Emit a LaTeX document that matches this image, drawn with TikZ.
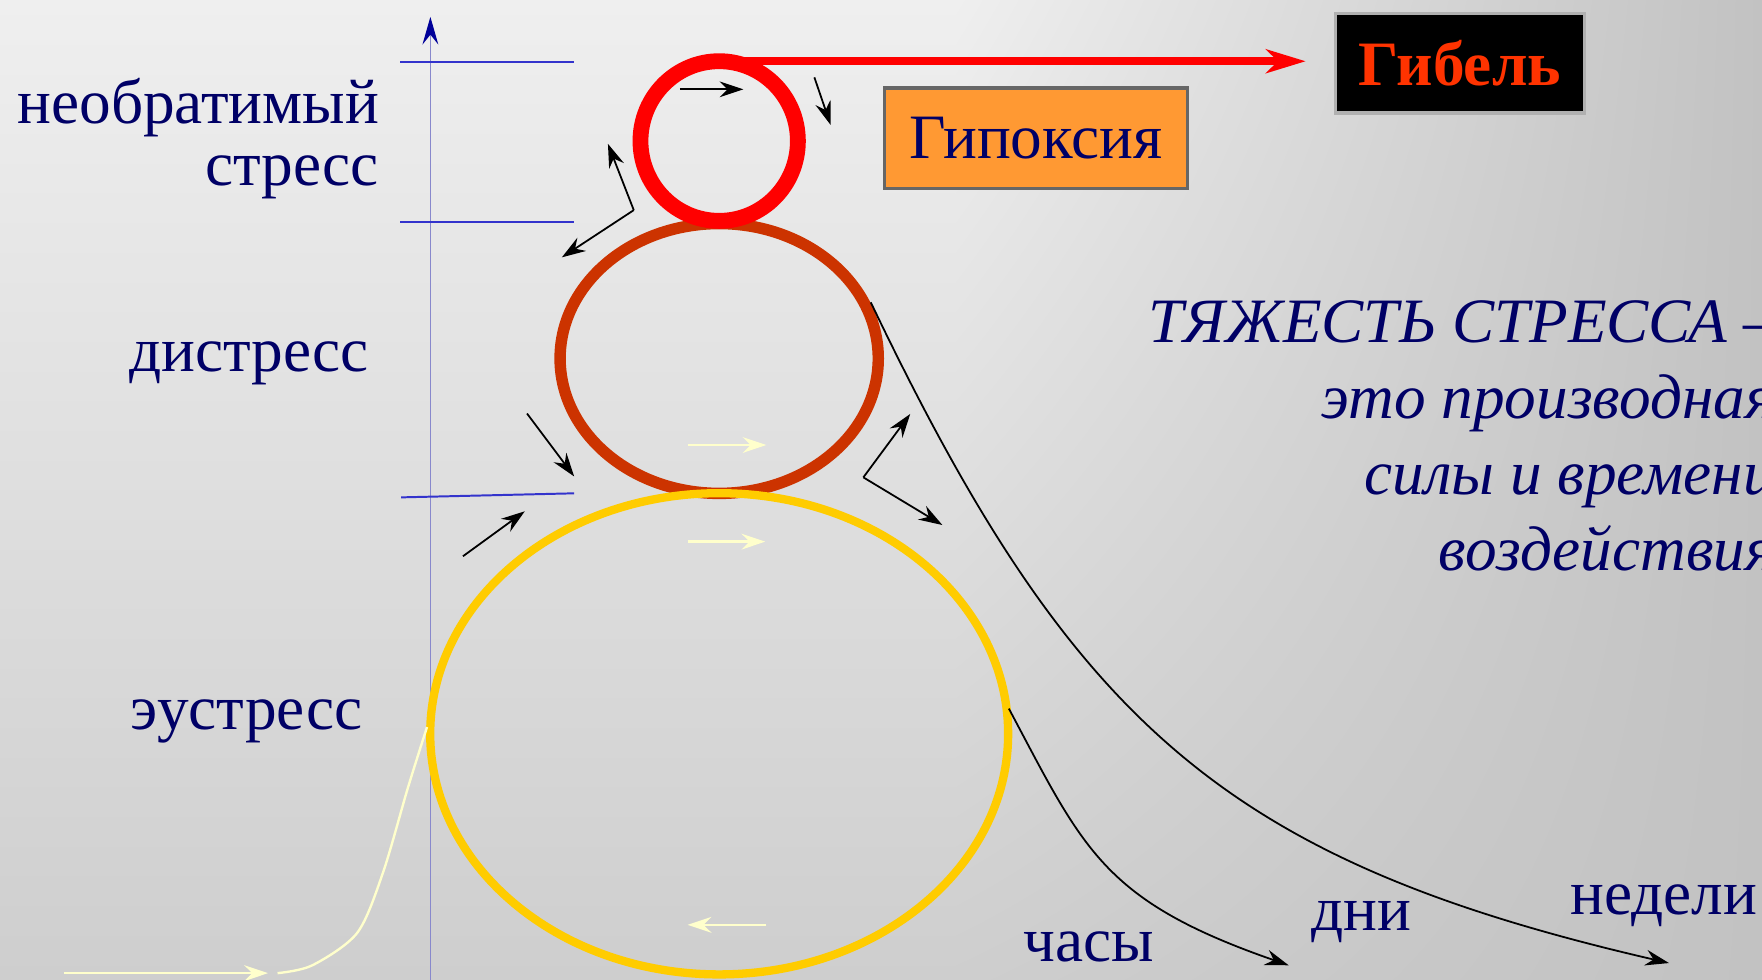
\documentclass[tikz,border=0pt]{standalone}
\usepackage{fontspec}
\setmainfont{Liberation Serif}
\usetikzlibrary{arrows.meta, calc, positioning, shadings}

\definecolor{navytext}{HTML}{000066}
\definecolor{ringred}{HTML}{FF0000}
\definecolor{ringbrown}{HTML}{CC3300}
\definecolor{ringgold}{HTML}{FFCC00}
\definecolor{paleyellow}{HTML}{FFFFCC}
\definecolor{levelblue}{HTML}{3333CC}
\definecolor{axisblue}{HTML}{8888CC}
\definecolor{axistip}{HTML}{000099}
\definecolor{boxorange}{HTML}{FF9933}
\definecolor{boxedge}{HTML}{666666}
\definecolor{deathred}{HTML}{FF3300}
\definecolor{deathedge}{HTML}{B0B0B0}
\definecolor{bgTop}{HTML}{EFEFEF}
\definecolor{bgBottom}{HTML}{CECECE}
\definecolor{bgUR}{HTML}{C2C2C2}
\definecolor{bgLR}{HTML}{C2C2C2}

\begin{document}
\begin{tikzpicture}[x=0.01cm,y=-0.01cm,>=stealth,
  lbl/.style={text=navytext,font=\fontsize{16}{19}\selectfont,inner sep=0pt},
  level/.style={levelblue,line width=0.5pt},
  flow/.style={-{Stealth[length=6pt,width=4pt,inset=2pt]},line width=0.45pt},
  paleflow/.style={-{Stealth[length=6pt,width=4pt,inset=2pt]},paleyellow,line width=0.6pt},
  timeline/.style={-{Stealth[length=6pt,width=4pt,inset=2pt]},line width=0.45pt}]

% --- Sfondo
\useasboundingbox (0,0) rectangle (1568,872);
\clip (0,0) rectangle (1568,872);
\shade[top color=bgTop,bottom color=bgBottom] (0,0) rectangle (851,872);
\shade[upper left=bgTop,lower left=bgBottom,upper right=bgUR,lower right=bgLR] (850,0) rectangle (1568,872);

% --- Asse e livelli
\draw[axisblue,line width=0.3pt,-{Stealth[length=7pt,width=4pt,inset=2.5pt,color=axistip]}] (383,872) -- (383,15);
\draw[level] (356,54.9) -- (511,54.9);
\draw[level] (356,197.3) -- (511,197.3);
\draw[level] (357,442.6) -- (511,439);

% --- Anelli
\coordinate (irrev) at (640,125.5);
\coordinate (dist) at (640,319);
\coordinate (eus) at (640,653);
\draw[ringbrown,line width=2.9pt] (dist) ellipse [x radius=1.415cm, y radius=1.20cm];
\draw[ringgold,line width=2.1pt] (eus) ellipse [x radius=2.57cm, y radius=2.14cm];
\draw[ringred,line width=4pt] (irrev) ellipse [x radius=0.70cm, y radius=0.71cm];

% --- Etichette a sinistra
\node[lbl,anchor=base east] (irrevA) at (338,110) {необратимый};
\node[lbl,anchor=base east] (irrevB) at (338,165) {стресс};
\node[lbl,anchor=base east] (distress) at (329,331) {дистресс};
\node[lbl,anchor=base east] (eustress) at (323.5,649) {эустресс};

% --- Riquadri
\node[lbl,draw=boxedge,fill=boxorange,line width=0.8pt,minimum width=2.695cm,minimum height=0.892cm]
  (hypoxia) at (921.8,122.9) {Гипоксия};
\node[lbl,draw=deathedge,fill=black,text=deathred,line width=0.8pt,minimum width=2.216cm,minimum height=0.885cm,
  font=\fontsize{16}{19}\selectfont\bfseries] (death) at (1299.2,56.25) {Гибель};

\coordinate (irrevTop) at (640,54.5);
\draw[ringred,line width=1.9pt,-{Stealth[length=10pt,width=6pt,inset=3pt]},shorten >=0.25cm] (irrevTop) -- (irrevTop -| death.west);

% --- Testo (ancorato all'ultima riga)
\node[lbl,font=\fontsize{16}{19.2}\selectfont\itshape,align=right,anchor=base east]
  (severity) at (1580,507.5) {ТЯЖЕСТЬ СТРЕССА –\\это производная\\силы и времени\\воздействия};

\node[lbl,anchor=base west] (hours) at (910,856) {часы};
\node[lbl,anchor=base west] (days) at (1166,828) {дни};
\node[lbl,anchor=base west] (weeks) at (1397,814) {недели};

% --- Frecce nere
\draw[flow] (605,79.5) -- (661.5,79.5);
\draw[flow] (724.7,68.8) -- (739.2,111.2);
\coordinate (kneeL) at (564,187);
\draw[flow] (kneeL) -- (541,128);
\draw[flow] (kneeL) -- (500,229);
\draw[flow] (469,368) -- (511,424);
\draw[flow] (412,495) -- (467,455);
\coordinate (kneeR) at (768.3,424.8);
\draw[flow] (kneeR) -- (810,368.4);
\draw[flow] (kneeR) -- (838.6,467.2);

% --- Curve temporali
\coordinate (distR) at (774.9,269);
\coordinate (eusR) at (897.8,630.6);
\coordinate (daysEnd) at (1146.8,859);
\coordinate (weeksEnd) at (1485.2,857);
\draw[timeline] (distR) .. controls (955,645.6) and (1091.5,766.1) .. (weeksEnd);
\draw[timeline] (eusR) .. controls (964.3,755.5) and (980.8,801.4) .. (daysEnd);

% --- Frecce chiare
\draw[paleflow] (612,396) -- (682,396);
\draw[paleflow] (612,482) -- (681,482);
\draw[paleflow] (682,823) -- (612,823);
\draw[paleflow] (57,866) -- (238.5,866);
\draw[paleyellow,line width=0.6pt] plot[smooth] coordinates {(247,866) (278,859) (318,830) (341,776) (363,701) (380,647)};

\end{tikzpicture}
\end{document}
